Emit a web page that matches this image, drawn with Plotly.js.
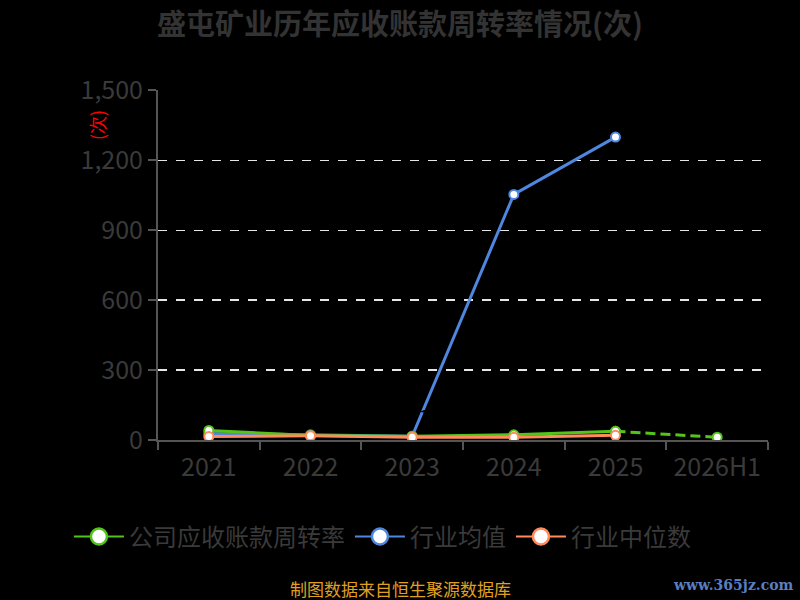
<!DOCTYPE html>
<html>
<head>
<meta charset="utf-8">
<script src="https://cdn.plot.ly/plotly-3.0.1.min.js"></script>
<style>
html,body{margin:0;padding:0;background:#000;}
#chart{width:800px;height:600px;}
</style>
</head>
<body>
<div id="chart"></div>
<script>
var categories = ["2021", "2022", "2023", "2024", "2025", "2026H1"];
var companyValues = [40.9, 19.2, 16.45, 22.40, 37.41, 11.77];
var industryMean = [28, 22, 16, 1054, 1300];
var industryMedian = [15, 18, 12, 12, 20];
var yTicks = [0, 300, 600, 900, 1200, 1500];
var seriesNames = ['公司应收账款周转率', '行业均值', '行业中位数'];

var font = '"Noto Sans CJK SC", "Noto Sans", sans-serif';
var green = '#52C41A', blue = '#4F86E0', orange = '#FF8A5B';
var colors = [green, blue, orange];

var solidX = categories.slice(0, 5), solidY = companyValues.slice(0, 5);
var dashX = categories.slice(4), dashY = companyValues.slice(4);

function mk(c) { return {size: 9, color: '#fff', line: {color: c, width: 2}}; }

var traces = [
  {
    x: categories.slice(0, industryMean.length), y: industryMean, name: seriesNames[1],
    type: 'scatter', mode: 'lines+markers', showlegend: false,
    line: {color: blue, width: 3}, marker: mk(blue)
  },
  {
    x: solidX, y: solidY, name: seriesNames[0], showlegend: false,
    type: 'scatter', mode: 'lines+markers+text',
    text: solidY.map(String), textposition: 'top right',
    textfont: {color: '#000', size: 20, family: font},
    line: {color: green, width: 3}, marker: mk(green)
  },
  {
    x: dashX, y: dashY, name: seriesNames[0], showlegend: false,
    type: 'scatter', mode: 'lines+markers+text',
    text: ['', String(dashY[1])], textposition: 'top right',
    textfont: {color: '#000', size: 20, family: font},
    line: {color: green, width: 3, dash: '10px,5px'}, marker: mk(green)
  },
  {
    x: categories.slice(0, industryMedian.length), y: industryMedian, name: seriesNames[2],
    type: 'scatter', mode: 'lines+markers', showlegend: false,
    line: {color: orange, width: 3}, marker: mk(orange)
  }
];

// legend entries (no data of their own)
seriesNames.forEach(function (n, i) {
  traces.push({
    x: [null], y: [null], name: n, type: 'scatter', mode: 'lines+markers',
    legendrank: i + 1, hoverinfo: 'skip',
    line: {color: colors[i], width: 2},
    marker: {size: 16, color: '#fff', line: {color: colors[i], width: 2.5}}
  });
});

var layout = {
  width: 800, height: 600,
  paper_bgcolor: '#000', plot_bgcolor: '#000',
  margin: {l: 158, r: 32, t: 90, b: 160},
  font: {family: font, color: '#3a3a3a'},
  title: {
    text: '<b>盛屯矿业历年应收账款周转率情况(次)</b>',
    x: 0.5, xanchor: 'center', y: 0.958, yanchor: 'middle',
    font: {size: 29, color: '#333333', family: font}
  },
  xaxis: {
    type: 'category', categoryorder: 'array', categoryarray: categories,
    range: [-0.5, 5.5],
    showline: true, linecolor: '#555', linewidth: 2,
    ticks: 'outside', tickson: 'boundaries', ticklen: 8, tickcolor: '#555', tickwidth: 2,
    ticklabelstandoff: 4,
    showgrid: false, zeroline: false,
    tickfont: {size: 25, color: '#3a3a3a', family: font}
  },
  yaxis: {
    range: [0, 1502], tickvals: yTicks, tickformat: ',',
    showline: true, linecolor: '#555', linewidth: 2,
    ticks: 'outside', ticklen: 8, tickcolor: '#555', tickwidth: 2,
    showgrid: true, gridcolor: '#e6e6e6', griddash: 'dash', gridwidth: 1.5,
    zeroline: false,
    tickfont: {size: 25, color: '#3a3a3a', family: font}
  },
  showlegend: true,
  legend: {
    orientation: 'h', x: -0.146, xanchor: 'left', y: -0.277, yanchor: 'middle',
    font: {size: 24, color: '#3a3a3a', family: font},
    bgcolor: 'rgba(0,0,0,0)', itemwidth: 50, traceorder: 'normal'
  },
  annotations: [
    {
      text: '(次)', xref: 'paper', yref: 'paper',
      x: (97 - 158) / 610, y: (440 - 125) / 350, xanchor: 'center', yanchor: 'middle',
      textangle: -90, showarrow: false,
      font: {size: 18, color: '#ff0000', family: font}
    },
    {
      text: '制图数据来自恒生聚源数据库', xref: 'paper', yref: 'paper',
      x: (400 - 158) / 610, y: (440 - 588) / 350, xanchor: 'center', yanchor: 'middle', showarrow: false,
      font: {size: 17, color: '#E0A020', family: font}
    },
    {
      text: '<b>www.365jz.com</b>', xref: 'paper', yref: 'paper',
      x: (796 - 158) / 610, y: (440 - 585) / 350, xanchor: 'right', yanchor: 'middle', showarrow: false,
      font: {size: 14, color: '#5A7FC0', family: '"DejaVu Serif", serif'}
    }
  ]
};

Plotly.newPlot('chart', traces, layout, {displayModeBar: false, staticPlot: true});
</script>
</body>
</html>
